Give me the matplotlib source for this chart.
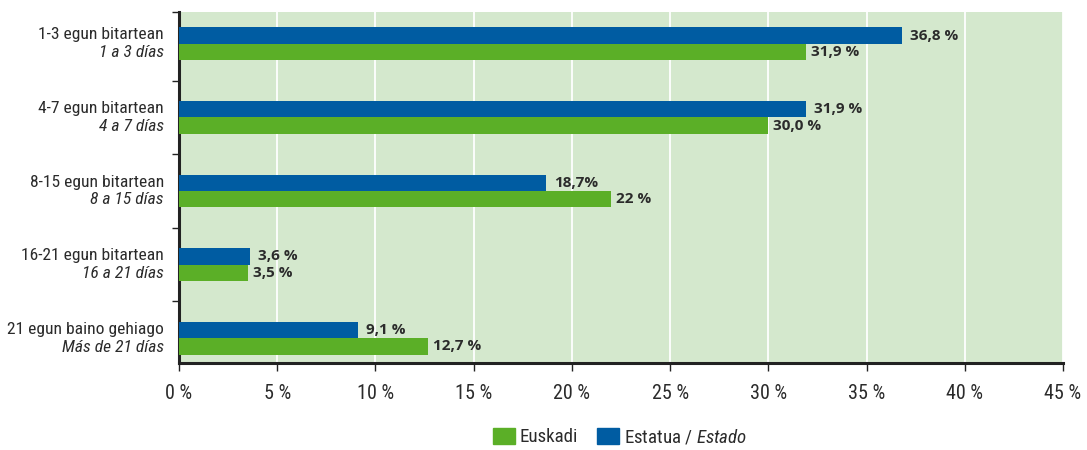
import matplotlib
matplotlib.use("Agg")
import matplotlib.pyplot as plt
from matplotlib.patches import Patch
import numpy as np

categories_eu = ["1-3 egun bitartean", "4-7 egun bitartean", "8-15 egun bitartean",
                 "16-21 egun bitartean", "21 egun baino gehiago"]
categories_es = ["1 a 3 días", "4 a 7 días", "8 a 15 días", "16 a 21 días", "Más de 21 días"]
estado = [36.8, 31.9, 18.7, 3.6, 9.1]
euskadi = [31.9, 30.0, 22.0, 3.5, 12.7]
estado_labels = ["36,8 %", "31,9 %", "18,7%", "3,6 %", "9,1 %"]
euskadi_labels = ["31,9 %", "30,0 %", "22 %", "3,5 %", "12,7 %"]
xticks = [0, 5, 10, 15, 20, 25, 30, 35, 40, 45]

COND = "Roboto Condensed"
plt.rcParams['font.family'] = [COND, 'DejaVu Sans']
plt.rcParams['mathtext.fontset'] = 'custom'
plt.rcParams['mathtext.rm'] = COND
plt.rcParams['mathtext.it'] = COND + ':italic'

GREEN = "#5BAF27"
BLUE = "#005CA2"
BG = "#D4E8CD"
TXT = "#2B2B2B"

fig = plt.figure(figsize=(10.87, 4.5), dpi=100)
ax = fig.add_axes([179/1087, 1-363/450, (1063-179)/1087, (363-12)/450])
ax.set_facecolor(BG)

y = np.arange(len(categories_eu))
h = 0.224
ax.barh(y - h/2, estado, height=h, color=BLUE, zorder=3)
ax.barh(y + h/2, euskadi, height=h, color=GREEN, zorder=3)

for yi, v, lab in zip(y, estado, estado_labels):
    ax.annotate(lab, (v, yi - h/2), xytext=(8, 0), textcoords="offset pixels",
                va="center", ha="left", fontsize=11, fontweight="bold",
                color=TXT, family="Open Sans", zorder=4)
for yi, v, lab in zip(y, euskadi, euskadi_labels):
    ax.annotate(lab, (v, yi + h/2), xytext=(5, 0), textcoords="offset pixels",
                va="center", ha="left", fontsize=11, fontweight="bold",
                color=TXT, family="Open Sans", zorder=4)

ytop, ybot = -0.432, 4.337
ax.set_xlim(0, 45)
ax.set_ylim(ybot, ytop)
ax.set_xticks(xticks)
ax.set_xticklabels([f"{t} %" for t in xticks], fontsize=14.5, color=TXT)
ax.set_yticks([ytop, 0.5, 1.5, 2.5, 3.5])
ax.set_yticklabels([])
ax.grid(axis="x", color="white", linewidth=1.3, zorder=1)
ax.set_axisbelow(True)

for s in ["top", "right"]:
    ax.spines[s].set_visible(False)
for s in ["left", "bottom"]:
    ax.spines[s].set_linewidth(2.2)
    ax.spines[s].set_color("#222222")
ax.tick_params(axis="x", length=6, width=1, color="#222222", pad=9)
ax.tick_params(axis="y", length=5, width=1, color="#222222")

trans = ax.get_yaxis_transform()
for yi, a, b in zip(y, categories_eu, categories_es):
    ax.text(-0.017, yi - 0.12, a, transform=trans, ha="right", va="center",
            fontsize=12.6, color=TXT)
    ax.text(-0.017, yi + 0.12, b, transform=trans, ha="right", va="center",
            fontsize=12.6, color=TXT, style="italic")

handles = [Patch(color=GREEN), Patch(color=BLUE)]
fig.legend(handles, ["Euskadi", r"Estatua / $\mathit{Estado}$"], loc="center",
           bbox_to_anchor=(620/1087, 1-437/450), ncol=2, frameon=False,
           fontsize=13.6, handlelength=1.15, handleheight=0.95, handletextpad=0.25,
           columnspacing=1.0, labelcolor=TXT, borderpad=0)

fig.savefig("out.png", dpi=100)
